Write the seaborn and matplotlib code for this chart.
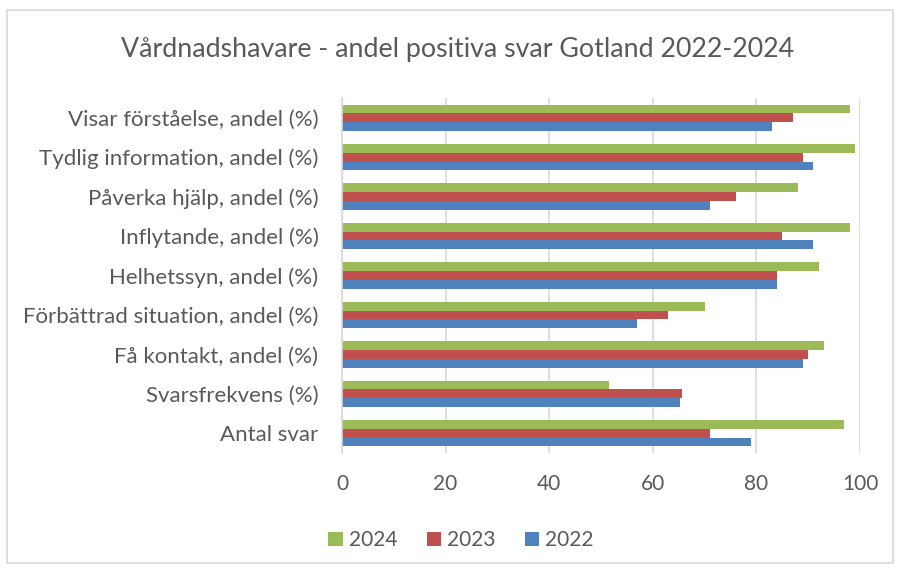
import numpy as np
import pandas as pd
import seaborn as sns
import matplotlib.pyplot as plt
from matplotlib.patches import Rectangle, Patch

# categories top to bottom, as in the chart
categories = ['Visar förståelse, andel (%)', 'Tydlig information, andel (%)',
              'Påverka hjälp, andel (%)', 'Inflytande, andel (%)',
              'Helhetssyn, andel (%)', 'Förbättrad situation, andel (%)',
              'Få kontakt, andel (%)', 'Svarsfrekvens (%)', 'Antal svar']

v2024 = [98, 99, 88, 98, 92, 70, 93, 51.5, 97]
v2023 = [87, 89, 76, 85, 84, 63, 90, 65.7, 71]
v2022 = [83, 91, 71, 91, 84, 57, 89, 65.3, 79]

years = ['2024', '2023', '2022']
colors = ['#9BBB59', '#C0504D', '#4F81BD']

df = pd.DataFrame({
    'kategori': categories * 3,
    'år': ['2024'] * 9 + ['2023'] * 9 + ['2022'] * 9,
    'värde': v2024 + v2023 + v2022,
})

sns.set_style('white')
plt.rcParams['font.family'] = ['Lato', 'DejaVu Sans']
txt = '#595959'

fig = plt.figure(figsize=(8.98, 5.68), dpi=100)
ax = fig.add_axes([342 / 898, 1 - 453 / 568, (860 - 342) / 898, (453 - 98) / 568])

sns.barplot(data=df, y='kategori', x='värde', hue='år', hue_order=years,
            palette=colors, orient='h', width=0.67, saturation=1,
            edgecolor='none', linewidth=0, ax=ax, legend=False)

ax.set_xlim(0, 100)
ax.set_ylim(8.5, -0.5)
ax.set_xticks(np.arange(0, 101, 20))
ax.xaxis.grid(True, color='#d9d9d9', linewidth=1.2)
ax.set_axisbelow(True)
for s in ['top', 'right', 'bottom']:
    ax.spines[s].set_visible(False)
ax.spines['left'].set_color('#d9d9d9')
ax.spines['left'].set_linewidth(1.2)
ax.set_xlabel('')
ax.set_ylabel('')
ax.tick_params(axis='y', length=0, pad=17, labelsize=16, labelcolor=txt)
ax.tick_params(axis='x', length=0, pad=15, labelsize=15, labelcolor=txt)

fig.text(0.509, 1 - 50 / 568, 'Vårdnadshavare - andel positiva svar Gotland 2022-2024',
         ha='center', va='center', fontsize=19.3, color=txt)

handles = [Patch(facecolor=c, edgecolor='none') for c in colors]
fig.legend(handles, years, loc='center', bbox_to_anchor=(461 / 898, 1 - 540 / 568),
           ncol=3, frameon=False, fontsize=15, labelcolor=txt,
           handlelength=0.68, handleheight=0.68, handletextpad=0.3, columnspacing=1.4)

fig.patches.append(Rectangle((7 / 898, 1 - 563 / 568), 886 / 898, 553 / 568,
                             transform=fig.transFigure, fill=False,
                             edgecolor='#d9d9d9', linewidth=1.2))

fig.savefig('out.png', dpi=100)
